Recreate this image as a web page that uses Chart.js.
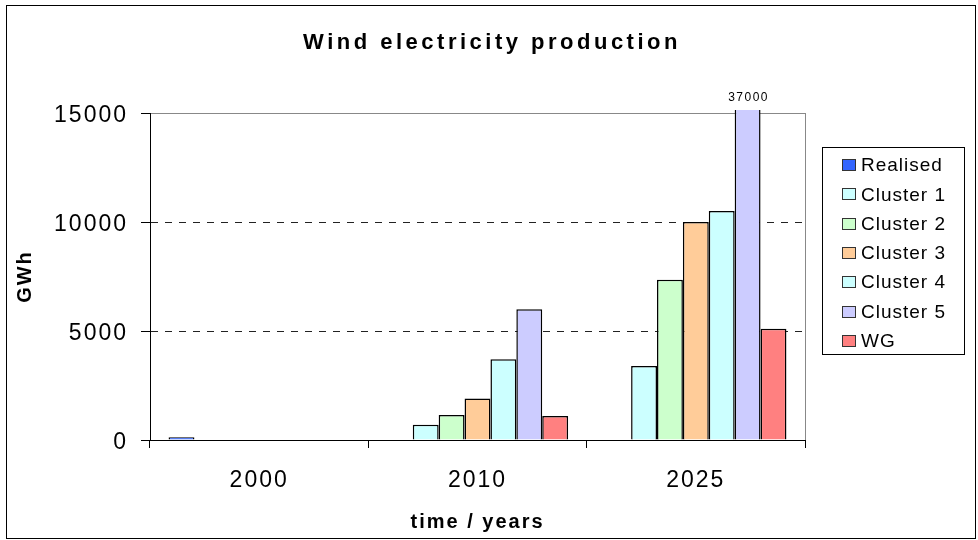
<!DOCTYPE html>
<html lang="en">
<head>
  <meta charset="UTF-8" />
  <title>Wind electricity production</title>
  <style>
    body { margin: 0; background: #fff; }
    #wrap { width: 978px; height: 540px; }
  </style>
</head>
<body>
  <div id="wrap"><canvas id="windChart" width="978" height="540"></canvas></div>

  <script src="https://cdn.jsdelivr.net/npm/chart.js"></script>
  <script>
    // data (GWh)
    const years = ["2000", "2010", "2025"];
    const seriesNames = ["Realised", "Cluster 1", "Cluster 2", "Cluster 3", "Cluster 4", "Cluster 5", "WG"];
    const realised = [130, null, null];
    const cluster1 = [null, 700, 3400];
    const cluster2 = [null, 1150, 7350];
    const cluster3 = [null, 1900, 10000];
    const cluster4 = [null, 3700, 10500];
    const cluster5 = [null, 6000, 37000];
    const wg = [null, 1100, 5100];
    const yTicks = [0, 5000, 10000, 15000];

    const colors = ["#3366ff", "#ccffff", "#ccffcc", "#ffcc99", "#ccffff", "#ccccff", "#ff8080"];
    const allSeries = [realised, cluster1, cluster2, cluster3, cluster4, cluster5, wg];

    const FONT = "'Liberation Sans', Arial, sans-serif";

    // white background, outer frame, grey plot frame; title, legend, clipped-bar label
    const framePlugin = {
      id: "frame",
      beforeDraw(chart) {
        const ctx = chart.ctx;
        const a = chart.chartArea;
        ctx.save();
        ctx.fillStyle = "#fff";
        ctx.fillRect(0, 0, chart.width, chart.height);
        ctx.strokeStyle = "#000";
        ctx.lineWidth = 1;
        ctx.strokeRect(6.5, 5.5, 969, 533);
        ctx.strokeStyle = "#888";
        ctx.strokeRect(a.left + 0.5, a.top + 0.5, a.right - a.left, a.bottom - a.top);
        ctx.restore();
        ctx.letterSpacing = "2px";
      },
      afterDraw(chart) {
        const ctx = chart.ctx;
        ctx.save();
        ctx.fillStyle = "#000";

        // title
        ctx.font = "bold 22px " + FONT;
        ctx.letterSpacing = "3.5px";
        ctx.textAlign = "center";
        ctx.textBaseline = "middle";
        ctx.fillText("Wind electricity production", 492, 43);

        // label for the clipped bar
        const bar = chart.getDatasetMeta(5).data[2];
        ctx.font = "12px " + FONT;
        ctx.letterSpacing = "1.5px";
        ctx.fillText(String(cluster5[2]), bar.x + 1, chart.chartArea.top - 15);

        // legend box
        ctx.strokeStyle = "#000";
        ctx.lineWidth = 1;
        ctx.strokeRect(822.5, 147.5, 142, 207);
        ctx.font = "19px " + FONT;
        ctx.letterSpacing = "1px";
        ctx.textAlign = "left";
        chart.data.datasets.forEach((ds, i) => {
          const y = 165 + i * 29.3;
          const top = Math.round(y - 6);
          ctx.fillStyle = ds.backgroundColor;
          ctx.fillRect(842, top, 14, 12);
          ctx.strokeStyle = "#333";
          ctx.strokeRect(842.5, top + 0.5, 13, 11);
          ctx.fillStyle = "#000";
          ctx.fillText(ds.label, 861, y + 1);
        });
        ctx.restore();
        ctx.letterSpacing = "0px";
      }
    };

    const datasets = seriesNames.map((name, i) => ({
      label: name,
      data: allSeries[i],
      backgroundColor: colors[i],
      borderColor: "#000",
      borderWidth: 1.5,
      borderSkipped: "bottom",
      clip: { left: 0, top: 3, right: 0, bottom: 0 }
    }));

    new Chart(document.getElementById("windChart"), {
      type: "bar",
      data: { labels: years, datasets: datasets },
      options: {
        responsive: false,
        animation: false,
        devicePixelRatio: 1,
        layout: { padding: { left: 0, right: 173, top: 113, bottom: 0 } },
        datasets: { bar: { categoryPercentage: 0.83, barPercentage: 1 } },
        plugins: {
          legend: { display: false },
          title: { display: false },
          tooltip: { enabled: false }
        },
        scales: {
          x: {
            offset: true,
            grid: {
              offset: true,
              drawOnChartArea: false,
              drawTicks: true,
              tickLength: 8,
              tickColor: "#000"
            },
            border: { display: true, color: "#000", width: 1 },
            ticks: {
              color: "#000",
              font: { family: FONT, size: 23 },
              padding: 19,
              maxRotation: 0
            },
            title: {
              display: true,
              text: "time / years",
              color: "#000",
              font: { family: FONT, size: 20, weight: "bold" },
              padding: { top: 0, bottom: 6 }
            },
            afterFit(scale) { scale.height = 100; }
          },
          y: {
            min: 0,
            max: 15000,
            afterBuildTicks(scale) { scale.ticks = yTicks.map(v => ({ value: v })); },
            grid: {
              color: ctx => (ctx.tick && ctx.tick.value === 15000 ? "#888" : "#222"),
              lineWidth: 1,
              drawTicks: true,
              tickLength: 9,
              tickColor: "#000",
              tickBorderDash: []
            },
            border: { display: true, color: "#000", width: 1, dash: [7, 7] },
            ticks: {
              color: "#000",
              font: { family: FONT, size: 23 },
              padding: 13,
              labelOffset: 3,
              callback: v => String(v)
            },
            title: {
              display: true,
              text: "GWh",
              color: "#000",
              font: { family: FONT, size: 20, weight: "bold" },
              padding: { top: 13, bottom: 0 }
            },
            afterFit(scale) { scale.width = 150; }
          }
        }
      },
      plugins: [framePlugin]
    });
  </script>
</body>
</html>
